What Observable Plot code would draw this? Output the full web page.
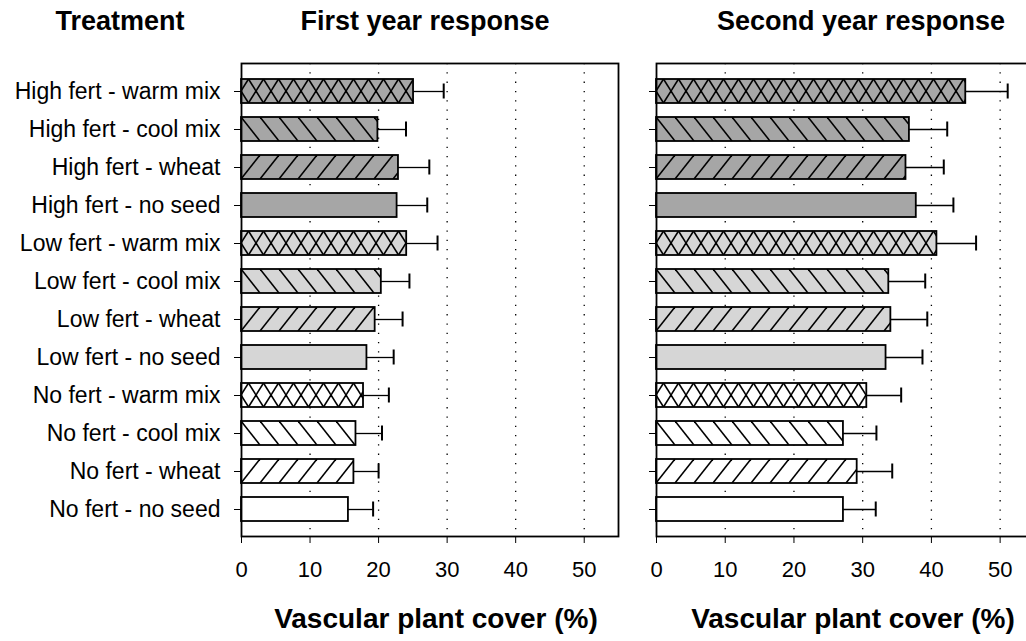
<!DOCTYPE html>
<html><head><meta charset="utf-8">
<script src="https://cdn.jsdelivr.net/npm/d3@7"></script>
<script src="https://cdn.jsdelivr.net/npm/@observablehq/plot@0.6"></script>
<style>
html,body{margin:0;padding:0;background:#fff;overflow:hidden;}
#wrap{position:relative;width:1026px;height:641px;overflow:hidden;font-family:"Liberation Sans",Arial,sans-serif;background:#fff;}
#wrap svg.plot{position:absolute;top:0;max-width:none;}
.t{position:absolute;font-weight:bold;line-height:1;white-space:nowrap;transform:translateX(-50%);color:#000;}
</style></head><body>
<div id="wrap"></div>
<script>
// ---- data ----
const treatments = [
  "High fert - warm mix", "High fert - cool mix", "High fert - wheat", "High fert - no seed",
  "Low fert - warm mix", "Low fert - cool mix", "Low fert - wheat", "Low fert - no seed",
  "No fert - warm mix", "No fert - cool mix", "No fert - wheat", "No fert - no seed"
];
const year1Mean = [25.1, 19.9, 22.9, 22.7, 24.1, 20.4, 19.5, 18.3, 17.8, 16.7, 16.4, 15.6];
const year1SE   = [4.4, 4.1, 4.5, 4.4, 4.5, 4.1, 4.0, 3.9, 3.7, 3.8, 3.6, 3.6];
const year2Mean = [45.0, 36.8, 36.3, 37.8, 40.8, 33.8, 34.1, 33.4, 30.6, 27.2, 29.2, 27.2];
const year2SE   = [6.1, 5.5, 5.5, 5.4, 5.7, 5.3, 5.3, 5.3, 5.0, 4.8, 5.1, 4.7];
const xTicks = [0, 10, 20, 30, 40, 50];
const panelTitles = ["First year response", "Second year response"];
const rowTitle = "Treatment";
const xTitle = "Vascular plant cover (%)";

// ---- styles ----
const fertFill = {"High fert": "#a6a6a6", "Low fert": "#d6d6d6", "No fert": "#ffffff"};
const seedHatch = {"warm mix": "cross", "cool mix": "back", "wheat": "fwd", "no seed": "none"};
const hatchPeriod = {cross: 15, back: 19, fwd: 19, none: 19};

const defs = d3.select("body").append("svg")
  .attr("width", 0).attr("height", 0)
  .style("position", "absolute").style("left", 0).style("top", 0)
  .append("defs");

function makePattern(id, fill, kind, x0, y0, Px, Py) {
  const p = defs.append("pattern")
    .attr("id", id).attr("patternUnits", "userSpaceOnUse")
    .attr("x", x0).attr("y", y0).attr("width", Px).attr("height", Py);
  p.append("rect").attr("width", Px).attr("height", Py).attr("fill", fill);
  const line = (x1, y1, x2, y2) => p.append("line")
    .attr("x1", x1).attr("y1", y1).attr("x2", x2).attr("y2", y2)
    .attr("stroke", "#000").attr("stroke-width", 1.6);
  if (kind === "fwd") for (const k of [-1, 0, 1]) line(k * Px, Py, (k + 1) * Px, 0);
  if (kind === "back") for (const k of [-1, 0, 1]) line(k * Px, 0, (k + 1) * Px, Py);
  if (kind === "cross") {
    for (const k of [-1, 0, 1]) {
      line(Px / 2 + k * Px, 0, -Px / 2 + k * Px, Py);
      line(Px / 2 + k * Px, 0, 3 * Px / 2 + k * Px, Py);
    }
  }
}

function panel(key, mean, se, {width, marginLeft, marginRight, labels}) {
  const rows = treatments.map((t, i) => ({
    treatment: t, mean: mean[i], upper: mean[i] + se[i], fill: `url(#pat-${key}-${i})`
  }));
  const svg = Plot.plot({
    width, height: 641, marginTop: 63, marginBottom: 105, marginLeft, marginRight,
    x: {domain: [0, 55]},
    y: {domain: treatments, paddingInner: 0.38, paddingOuter: 0.26},
    color: {type: "identity"},
    style: {fontFamily: '"Liberation Sans", Arial, sans-serif', fontSize: "23px", color: "#000", background: "transparent", overflow: "visible"},
    marks: [
      Plot.ruleX(xTicks.filter(d => d > 0), {stroke: "#000", strokeWidth: 1.3, strokeDasharray: "1.3,8"}),
      Plot.barX(rows, {x: "mean", y: "treatment", fill: "fill", stroke: "#000", strokeWidth: 1.8}),
      Plot.ruleY(rows, {y: "treatment", x1: "mean", x2: "upper", stroke: "#000", strokeWidth: 1.3}),
      Plot.tickX(rows, {x: "upper", y: "treatment", stroke: "#000", strokeWidth: 2, insetTop: 4.5, insetBottom: 4.5}),
      Plot.frame({stroke: "#000", strokeWidth: 1.8}),
      Plot.axisY({tickSize: 7, tickPadding: 14, tickFormat: labels ? (d => d) : (() => ""), fontSize: 23, label: null}),
      Plot.axisX({ticks: xTicks, tickSize: 7, tickPadding: 18, fontSize: 22, label: null})
    ]
  });
  // patterns aligned to each bar through the plot's own scales
  const ys = svg.scale("y"), xs = svg.scale("x");
  treatments.forEach((t, i) => {
    const [f, s] = t.split(" - ");
    const kind = seedHatch[s];
    makePattern(`pat-${key}-${i}`, fertFill[f], kind, xs.apply(0), ys.apply(t), hatchPeriod[kind], ys.bandwidth);
  });
  svg.classList.add("plot");
  return svg;
}

const wrap = document.getElementById("wrap");
const left = panel("y1", year1Mean, year1SE, {width: 640, marginLeft: 241, marginRight: 22, labels: true});
left.style.left = "0px";
wrap.appendChild(left);
const right = panel("y2", year2Mean, year2SE, {width: 420, marginLeft: 36, marginRight: 6, labels: false});
right.style.left = "620px";
wrap.appendChild(right);

function addTitle(text, cx, top, size) {
  const d = document.createElement("div");
  d.className = "t";
  d.textContent = text;
  d.style.left = cx + "px";
  d.style.top = top + "px";
  d.style.fontSize = size + "px";
  wrap.appendChild(d);
}
addTitle(rowTitle, 120, 8, 27);
addTitle(panelTitles[0], 425, 8, 27);
addTitle(panelTitles[1], 861, 8, 27);
addTitle(xTitle, 436, 605, 28);
addTitle(xTitle, 853, 605, 28);
</script>
</body></html>
